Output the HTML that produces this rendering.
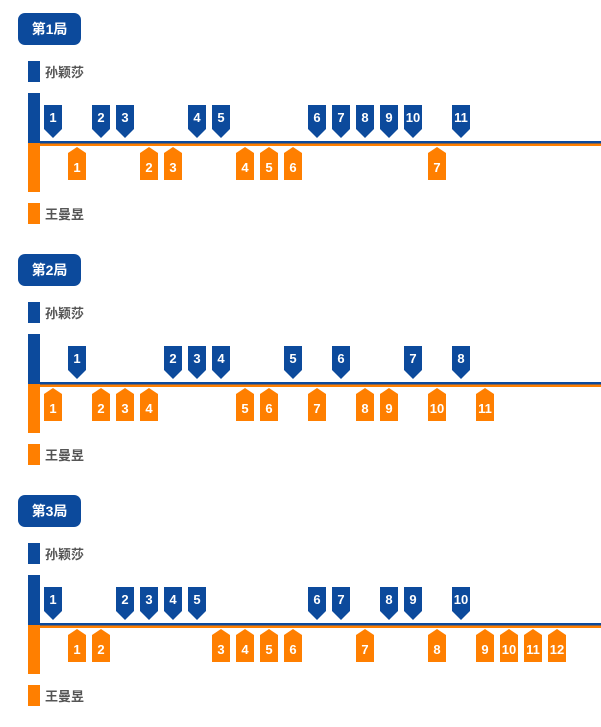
<!DOCTYPE html>
<html><head><meta charset="utf-8"><style>
body{margin:0;background:#fff;}
svg{display:block;}
text{font-family:"Liberation Sans","Noto Sans CJK SC",sans-serif;}
.w{fill:#fff;font-size:13px;font-weight:bold;text-anchor:middle;}
.l{fill:#555;font-size:13px;font-weight:bold;}
.t{fill:#fff;font-size:14px;font-weight:bold;text-anchor:middle;}
</style></head><body>
<svg width="601" height="727" viewBox="0 0 601 727" xmlns="http://www.w3.org/2000/svg">
<defs>
<polygon id="b" points="-9,105 9,105 9,129 0,138 -9,129" fill="#0c4a9c"/>
<polygon id="o" points="0,147 9,153 9,180 -9,180 -9,153" fill="#ff7f00"/>
<g id="frame">
<rect x="18" y="13" width="63" height="32" rx="7" fill="#0c4a9c"/>
<rect x="28" y="61" width="12" height="21" fill="#0c4a9c"/>
<rect x="28" y="93" width="12" height="50" fill="#0c4a9c"/>
<rect x="28" y="143" width="12" height="49" fill="#ff7f00"/>
<rect x="28" y="203" width="12" height="21" fill="#ff7f00"/>
<rect x="40" y="141" width="561" height="2.5" fill="#0c4a9c"/>
<rect x="40" y="143.5" width="561" height="2.5" fill="#ff7f00"/>
</g>
</defs>

<g>
<use href="#frame"/>
<text class="t" x="49.5" y="34">第1局</text>
<text class="l" x="45" y="77">孙颖莎</text>
<text class="l" x="45" y="219">王曼昱</text>
<use href="#b" x="53"/><text class="w" x="53" y="122">1</text>
<use href="#b" x="101"/><text class="w" x="101" y="122">2</text>
<use href="#b" x="125"/><text class="w" x="125" y="122">3</text>
<use href="#b" x="197"/><text class="w" x="197" y="122">4</text>
<use href="#b" x="221"/><text class="w" x="221" y="122">5</text>
<use href="#b" x="317"/><text class="w" x="317" y="122">6</text>
<use href="#b" x="341"/><text class="w" x="341" y="122">7</text>
<use href="#b" x="365"/><text class="w" x="365" y="122">8</text>
<use href="#b" x="389"/><text class="w" x="389" y="122">9</text>
<use href="#b" x="413"/><text class="w" x="413" y="122">10</text>
<use href="#b" x="461"/><text class="w" x="461" y="122">11</text>
<use href="#o" x="77"/><text class="w" x="77" y="172">1</text>
<use href="#o" x="149"/><text class="w" x="149" y="172">2</text>
<use href="#o" x="173"/><text class="w" x="173" y="172">3</text>
<use href="#o" x="245"/><text class="w" x="245" y="172">4</text>
<use href="#o" x="269"/><text class="w" x="269" y="172">5</text>
<use href="#o" x="293"/><text class="w" x="293" y="172">6</text>
<use href="#o" x="437"/><text class="w" x="437" y="172">7</text>
</g>

<g transform="translate(0,241)">
<use href="#frame"/>
<text class="t" x="49.5" y="34">第2局</text>
<text class="l" x="45" y="77">孙颖莎</text>
<text class="l" x="45" y="219">王曼昱</text>
<use href="#b" x="77"/><text class="w" x="77" y="122">1</text>
<use href="#b" x="173"/><text class="w" x="173" y="122">2</text>
<use href="#b" x="197"/><text class="w" x="197" y="122">3</text>
<use href="#b" x="221"/><text class="w" x="221" y="122">4</text>
<use href="#b" x="293"/><text class="w" x="293" y="122">5</text>
<use href="#b" x="341"/><text class="w" x="341" y="122">6</text>
<use href="#b" x="413"/><text class="w" x="413" y="122">7</text>
<use href="#b" x="461"/><text class="w" x="461" y="122">8</text>
<use href="#o" x="53"/><text class="w" x="53" y="172">1</text>
<use href="#o" x="101"/><text class="w" x="101" y="172">2</text>
<use href="#o" x="125"/><text class="w" x="125" y="172">3</text>
<use href="#o" x="149"/><text class="w" x="149" y="172">4</text>
<use href="#o" x="245"/><text class="w" x="245" y="172">5</text>
<use href="#o" x="269"/><text class="w" x="269" y="172">6</text>
<use href="#o" x="317"/><text class="w" x="317" y="172">7</text>
<use href="#o" x="365"/><text class="w" x="365" y="172">8</text>
<use href="#o" x="389"/><text class="w" x="389" y="172">9</text>
<use href="#o" x="437"/><text class="w" x="437" y="172">10</text>
<use href="#o" x="485"/><text class="w" x="485" y="172">11</text>
</g>

<g transform="translate(0,482)">
<use href="#frame"/>
<text class="t" x="49.5" y="34">第3局</text>
<text class="l" x="45" y="77">孙颖莎</text>
<text class="l" x="45" y="219">王曼昱</text>
<use href="#b" x="53"/><text class="w" x="53" y="122">1</text>
<use href="#b" x="125"/><text class="w" x="125" y="122">2</text>
<use href="#b" x="149"/><text class="w" x="149" y="122">3</text>
<use href="#b" x="173"/><text class="w" x="173" y="122">4</text>
<use href="#b" x="197"/><text class="w" x="197" y="122">5</text>
<use href="#b" x="317"/><text class="w" x="317" y="122">6</text>
<use href="#b" x="341"/><text class="w" x="341" y="122">7</text>
<use href="#b" x="389"/><text class="w" x="389" y="122">8</text>
<use href="#b" x="413"/><text class="w" x="413" y="122">9</text>
<use href="#b" x="461"/><text class="w" x="461" y="122">10</text>
<use href="#o" x="77"/><text class="w" x="77" y="172">1</text>
<use href="#o" x="101"/><text class="w" x="101" y="172">2</text>
<use href="#o" x="221"/><text class="w" x="221" y="172">3</text>
<use href="#o" x="245"/><text class="w" x="245" y="172">4</text>
<use href="#o" x="269"/><text class="w" x="269" y="172">5</text>
<use href="#o" x="293"/><text class="w" x="293" y="172">6</text>
<use href="#o" x="365"/><text class="w" x="365" y="172">7</text>
<use href="#o" x="437"/><text class="w" x="437" y="172">8</text>
<use href="#o" x="485"/><text class="w" x="485" y="172">9</text>
<use href="#o" x="509"/><text class="w" x="509" y="172">10</text>
<use href="#o" x="533"/><text class="w" x="533" y="172">11</text>
<use href="#o" x="557"/><text class="w" x="557" y="172">12</text>
</g>
</svg>
</body></html>
